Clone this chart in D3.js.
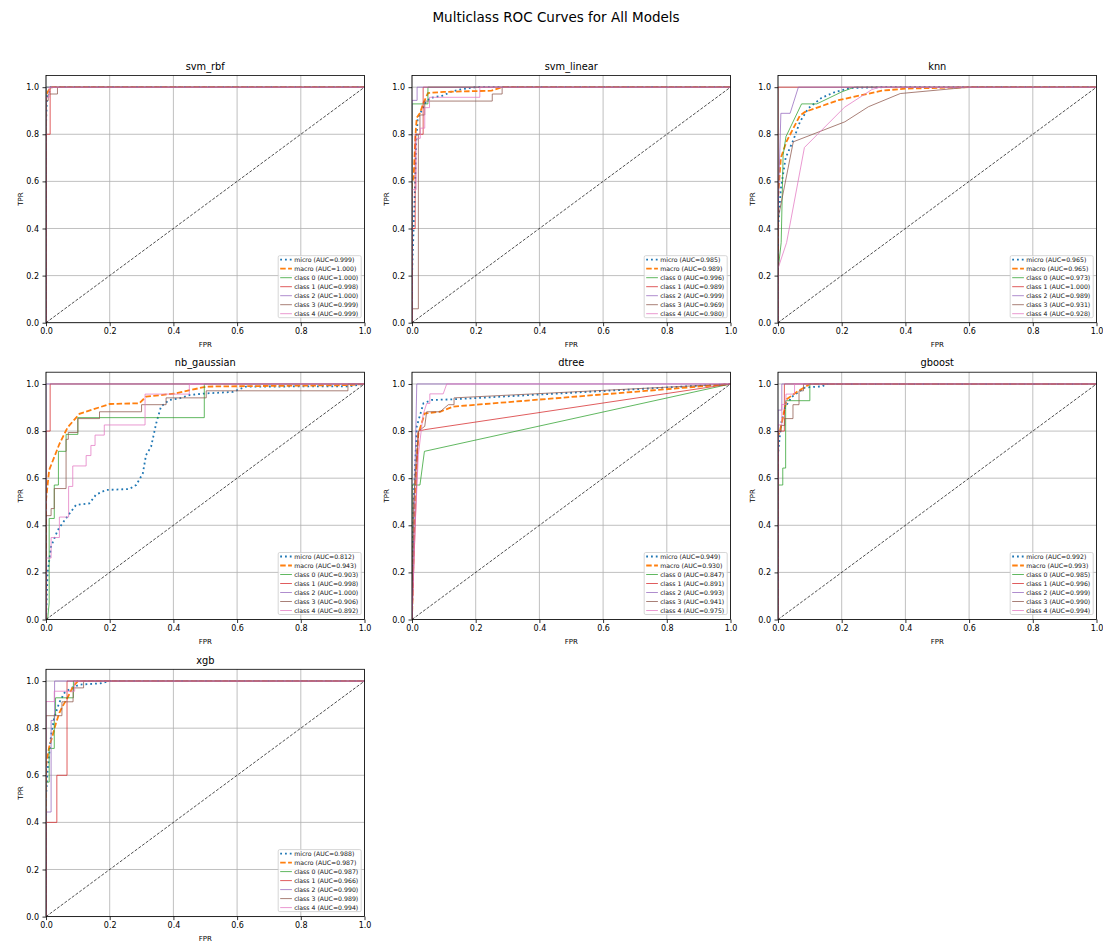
<!DOCTYPE html>
<html><head><meta charset="utf-8">
<script src="https://cdn.jsdelivr.net/npm/d3@7"></script>
<style>body{margin:0;background:#fff;} svg{display:block;font-family:"DejaVu Sans",sans-serif;}</style>
</head><body><svg id="chart" width="1103" height="943"></svg>
<script>
const figureTitle = "Multiclass ROC Curves for All Models";
const modelNames = ["svm_rbf","svm_linear","knn","nb_gaussian","dtree","gboost","xgb"];
const seriesNames = ["micro","macro","class 0","class 1","class 2","class 3","class 4"];
const axisTicks = [0,0.2,0.4,0.6,0.8,1.0];

// AUC values per model, in seriesNames order
const aucSvmRbf    = [0.999,1.000,1.000,0.998,1.000,0.999,0.999];
const aucSvmLinear = [0.985,0.989,0.996,0.989,0.999,0.969,0.980];
const aucKnn       = [0.965,0.965,0.973,1.000,0.989,0.931,0.928];
const aucNbGauss   = [0.812,0.943,0.903,0.998,1.000,0.906,0.892];
const aucDtree     = [0.949,0.930,0.847,0.891,0.993,0.941,0.975];
const aucGboost    = [0.992,0.993,0.985,0.996,0.999,0.990,0.994];
const aucXgb       = [0.988,0.987,0.987,0.966,0.990,0.989,0.994];

// ROC curves [FPR, TPR] per model, in seriesNames order
const rocSvmRbf = [
  [[0,0],[0,0.84],[0.003,0.96],[0.01,0.98],[0.015,1],[1,1]],
  [[0,0],[0,0.96],[0.005,0.98],[0.013,0.995],[0.02,1],[1,1]],
  [[0,0],[0,1],[1,1]],
  [[0,0],[0,0.8],[0.013,0.8],[0.013,1],[1,1]],
  [[0,0],[0,1],[1,1]],
  [[0,0],[0,0.943],[0.007,0.943],[0.007,0.971],[0.036,0.971],[0.036,1],[1,1]],
  [[0,0],[0,0.957],[0.01,0.957],[0.01,1],[1,1]]
];
const rocSvmLinear = [
  [[0,0],[0,0.2],[0.005,0.4],[0.01,0.6],[0.013,0.76],[0.018,0.87],[0.03,0.9],[0.045,0.94],[0.06,0.955],[0.1,0.965],[0.12,0.98],[0.15,0.99],[0.2,1],[1,1]],
  [[0,0],[0,0.59],[0.005,0.62],[0.012,0.82],[0.015,0.87],[0.025,0.89],[0.035,0.93],[0.05,0.975],[0.1,0.98],[0.25,0.985],[0.283,1],[1,1]],
  [[0,0],[0,0.929],[0.05,0.929],[0.05,1],[1,1]],
  [[0,0],[0,0.4],[0.01,0.4],[0.01,0.8],[0.035,0.8],[0.035,1],[1,1]],
  [[0,0],[0,0.944],[0.016,0.944],[0.016,1],[1,1]],
  [[0,0],[0,0.059],[0.02,0.059],[0.02,0.8],[0.025,0.8],[0.025,0.882],[0.04,0.882],[0.04,0.941],[0.252,0.941],[0.252,0.971],[0.283,0.971],[0.283,1],[1,1]],
  [[0,0],[0,0.565],[0.013,0.565],[0.013,0.783],[0.026,0.783],[0.026,0.826],[0.04,0.826],[0.04,0.913],[0.055,0.913],[0.055,0.957],[0.213,0.957],[0.213,1],[1,1]]
];
const rocKnn = [
  [[0,0],[0,0.4],[0.009,0.57],[0.024,0.70],[0.048,0.775],[0.069,0.853],[0.095,0.91],[0.137,0.955],[0.18,0.98],[0.23,0.997],[0.33,1],[1,1]],
  [[0,0],[0,0.53],[0.009,0.70],[0.027,0.77],[0.069,0.88],[0.085,0.895],[0.19,0.945],[0.326,0.985],[0.4,0.994],[0.6,1],[1,1]],
  [[0,0],[0,0.22],[0.01,0.34],[0.016,0.71],[0.025,0.79],[0.074,0.929],[0.122,0.929],[0.2,0.98],[0.24,1],[1,1]],
  [[0,0],[0,1],[1,1]],
  [[0,0],[0,0.45],[0.009,0.889],[0.038,0.889],[0.064,1],[1,1]],
  [[0,0],[0,0.44],[0.048,0.768],[0.21,0.853],[0.284,0.917],[0.384,0.973],[0.6,1],[1,1]],
  [[0,0],[0,0.23],[0.027,0.34],[0.083,0.744],[0.209,0.915],[0.295,0.99],[0.32,1],[1,1]]
];
const rocNbGauss = [
  [[0,0],[0.005,0.2],[0.016,0.31],[0.037,0.38],[0.063,0.43],[0.094,0.486],[0.136,0.493],[0.157,0.53],[0.188,0.55],[0.262,0.554],[0.283,0.571],[0.304,0.62],[0.314,0.698],[0.33,0.734],[0.346,0.833],[0.361,0.904],[0.387,0.932],[0.419,0.939],[0.45,0.953],[0.503,0.96],[0.586,0.966],[0.628,0.989],[0.95,0.99],[1,1]],
  [[0,0],[0,0.507],[0.01,0.635],[0.026,0.69],[0.042,0.745],[0.068,0.816],[0.105,0.873],[0.2,0.915],[0.293,0.918],[0.314,0.946],[0.408,0.96],[0.503,0.989],[0.95,0.995],[1,1]],
  [[0,0],[0.005,0],[0.01,0.07],[0.01,0.429],[0.026,0.429],[0.026,0.571],[0.039,0.571],[0.039,0.714],[0.063,0.714],[0.063,0.786],[0.1,0.786],[0.1,0.857],[0.497,0.857],[0.497,1],[1,1]],
  [[0,0],[0,0.8],[0.013,0.8],[0.013,1],[1,1]],
  [[0,0],[0,1],[1,1]],
  [[0,0],[0,0.441],[0.016,0.441],[0.016,0.471],[0.026,0.471],[0.026,0.556],[0.063,0.556],[0.063,0.765],[0.07,0.765],[0.07,0.794],[0.1,0.794],[0.1,0.853],[0.168,0.853],[0.168,0.882],[0.3,0.882],[0.3,0.912],[0.377,0.912],[0.377,0.941],[0.503,0.941],[0.503,0.971],[0.948,0.971],[0.948,1],[1,1]],
  [[0,0],[0,0.261],[0.016,0.261],[0.016,0.348],[0.042,0.348],[0.042,0.435],[0.071,0.435],[0.071,0.565],[0.084,0.565],[0.084,0.652],[0.126,0.652],[0.126,0.696],[0.141,0.696],[0.141,0.739],[0.154,0.739],[0.154,0.783],[0.183,0.783],[0.183,0.826],[0.311,0.826],[0.311,0.957],[0.45,0.957],[0.45,1],[1,1]]
];
const rocDtree = [
  [[0,0],[0.005,0.5],[0.015,0.82],[0.036,0.918],[0.062,0.932],[0.13,0.935],[1,1]],
  [[0,0],[0.01,0.58],[0.02,0.79],[0.04,0.875],[0.088,0.882],[0.13,0.904],[1,1]],
  [[0,0],[0,0.571],[0.025,0.571],[0.039,0.714],[1,1]],
  [[0,0],[0.02,0.8],[0.04,0.806],[1,1]],
  [[0,0],[0.015,1],[1,1]],
  [[0,0],[0.005,0.5],[0.02,0.8],[0.04,0.82],[0.046,0.882],[0.088,0.882],[0.114,0.912],[0.132,0.912],[0.132,0.941],[1,1]],
  [[0,0],[0.01,0.4],[0.02,0.7],[0.035,0.87],[0.046,0.917],[0.056,0.917],[0.056,0.958],[0.098,0.958],[0.109,1],[1,1]]
];
const rocGboost = [
  [[0,0],[0,0.7],[0.005,0.77],[0.011,0.84],[0.022,0.9],[0.043,0.945],[0.085,0.985],[0.14,0.99],[0.15,1],[1,1]],
  [[0,0],[0,0.78],[0.006,0.8],[0.022,0.9],[0.027,0.935],[0.059,0.966],[0.085,0.987],[0.1,1],[1,1]],
  [[0,0],[0,0.571],[0.015,0.571],[0.015,0.643],[0.024,0.643],[0.024,0.929],[0.1,0.929],[0.1,1],[1,1]],
  [[0,0],[0,0.8],[0.02,0.8],[0.02,1],[1,1]],
  [[0,0],[0,0.889],[0.012,0.889],[0.012,1],[1,1]],
  [[0,0],[0,0.8],[0.01,0.8],[0.01,0.824],[0.021,0.824],[0.021,0.853],[0.047,0.853],[0.047,0.912],[0.066,0.912],[0.066,0.971],[0.08,0.971],[0.08,1],[1,1]],
  [[0,0],[0,0.826],[0.012,0.826],[0.012,0.913],[0.025,0.913],[0.025,0.957],[0.052,0.957],[0.052,1],[1,1]]
];
const rocXgb = [
  [[0,0],[0,0.51],[0.005,0.62],[0.016,0.77],[0.026,0.845],[0.042,0.91],[0.058,0.95],[0.079,0.97],[0.105,0.985],[0.17,0.99],[0.2,1],[1,1]],
  [[0,0],[0,0.64],[0.01,0.72],[0.021,0.77],[0.031,0.82],[0.042,0.865],[0.052,0.893],[0.068,0.93],[0.084,0.975],[0.1,1],[1,1]],
  [[0,0],[0,0.571],[0.01,0.571],[0.01,0.714],[0.026,0.714],[0.026,0.857],[0.03,0.857],[0.03,0.929],[0.086,0.929],[0.086,1],[1,1]],
  [[0,0],[0,0.4],[0.034,0.4],[0.034,0.6],[0.066,0.6],[0.066,1],[1,1]],
  [[0,0],[0,0.444],[0.016,0.444],[0.016,0.833],[0.027,0.833],[0.027,1],[1,1]],
  [[0,0],[0,0.853],[0.05,0.853],[0.05,0.912],[0.085,0.912],[0.085,0.971],[0.118,0.971],[0.118,1],[1,1]],
  [[0,0],[0,0.913],[0.026,0.913],[0.026,0.957],[0.09,0.957],[0.09,1],[1,1]]
];

const modelAucs = [aucSvmRbf,aucSvmLinear,aucKnn,aucNbGauss,aucDtree,aucGboost,aucXgb];
const modelRocs = [rocSvmRbf,rocSvmLinear,rocKnn,rocNbGauss,rocDtree,rocGboost,rocXgb];

// styles
const seriesColors = ["#1f77b4","#ff7f0e","#2ca02c","#d62728","#9467bd","#8c564b","#e377c2"];
const seriesWidths = [1.8,1.8,1,1,1,1,1];
const seriesDash = ["1.8,3","5.5,2.4",null,null,null,null,null];
const seriesOpacity = [1,1,0.75,0.75,0.75,0.75,0.75];

const svg = d3.select("#chart");
svg.append("rect").attr("width",1103).attr("height",943).attr("fill","#fff");

svg.append("text").attr("x",556).attr("y",22).attr("text-anchor","middle")
  .attr("font-size",13.5).attr("fill","#000").text(figureTitle);

const colLeft = [46,412,778], plotW = 318.5;
const rowBottom = [322.7,619.5,916.6], plotH = 247.3;
const fmt = d3.format(".1f");

modelNames.forEach((name,i)=>{
  const r = Math.floor(i/3), c = i%3;
  const x = d3.scaleLinear().domain([0,1]).range([colLeft[c], colLeft[c]+plotW]);
  const y = d3.scaleLinear().domain([0,1.05]).range([rowBottom[r], rowBottom[r]-plotH]);
  const g = svg.append("g");
  const x0 = x(0), x1 = x(1), yb = y(0), yt = y(1.05);

  // grid
  g.append("g").selectAll("line.vg").data(axisTicks).join("line")
    .attr("x1",d=>x(d)).attr("x2",d=>x(d)).attr("y1",yb).attr("y2",yt)
    .attr("stroke","#b0b0b0").attr("stroke-width",0.8);
  g.append("g").selectAll("line.hg").data(axisTicks).join("line")
    .attr("y1",d=>y(d)).attr("y2",d=>y(d)).attr("x1",x0).attr("x2",x1)
    .attr("stroke","#b0b0b0").attr("stroke-width",0.8);

  const clipId = "clip"+i;
  svg.append("clipPath").attr("id",clipId).append("rect")
    .attr("x",x0).attr("y",yt).attr("width",x1-x0).attr("height",yb-yt);
  const pg = g.append("g").attr("clip-path",`url(#${clipId})`);
  const line = d3.line().x(d=>x(d[0])).y(d=>y(d[1]));

  modelRocs[i].forEach((pts,k)=>{
    pg.append("path").attr("d",line(pts)).attr("fill","none")
      .attr("stroke",seriesColors[k]).attr("stroke-width",seriesWidths[k])
      .attr("stroke-opacity",seriesOpacity[k])
      .attr("stroke-dasharray",seriesDash[k]);
  });
  // chance diagonal
  pg.append("path").attr("d",line([[0,0],[1,1]])).attr("fill","none")
    .attr("stroke","#222").attr("stroke-width",0.8).attr("stroke-dasharray","3,1.6");

  // axes
  const ax = g.append("g").attr("transform",`translate(0,${yb})`)
    .call(d3.axisBottom(x).tickValues(axisTicks).tickFormat(fmt).tickSize(3.5).tickPadding(2.3).tickSizeOuter(0));
  const ay = g.append("g").attr("transform",`translate(${x0},0)`)
    .call(d3.axisLeft(y).tickValues(axisTicks).tickFormat(fmt).tickSize(3.5).tickPadding(3.5).tickSizeOuter(0));
  [ax,ay].forEach(a=>{
    a.select(".domain").remove();
    a.selectAll("text").attr("font-size",8).attr("font-family","DejaVu Sans").attr("fill","#000");
    a.selectAll("line").attr("stroke","#000").attr("stroke-width",0.8);
  });
  g.append("rect").attr("x",x0).attr("y",yt).attr("width",x1-x0).attr("height",yb-yt)
    .attr("fill","none").attr("stroke","#000").attr("stroke-width",0.8);

  // labels
  g.append("text").attr("x",(x0+x1)/2).attr("y",yb+24).attr("text-anchor","middle")
    .attr("font-size",7).attr("fill","#000").text("FPR");
  g.append("text").attr("transform",`translate(${x0-23.5},${(yb+yt)/2}) rotate(-90)`)
    .attr("text-anchor","middle").attr("font-size",7).attr("fill","#000").text("TPR");
  g.append("text").attr("x",(x0+x1)/2).attr("y",yt-5.8).attr("text-anchor","middle")
    .attr("font-size",9.8).attr("fill","#000").text(name);

  // legend
  const lw = 83, lh = 62;
  const lx = x1 - 3.3 - lw, ly = yb - 5 - lh;
  const lg = g.append("g");
  lg.append("rect").attr("x",lx).attr("y",ly).attr("width",lw).attr("height",lh)
    .attr("rx",1.5).attr("fill","#fff").attr("fill-opacity",0.8)
    .attr("stroke","#cccccc").attr("stroke-width",0.8);
  seriesNames.forEach((sn,k)=>{
    const cy = ly + 4 + k*9;
    lg.append("line").attr("x1",lx+2).attr("x2",lx+13.7).attr("y1",cy).attr("y2",cy)
      .attr("stroke",seriesColors[k]).attr("stroke-width",seriesWidths[k])
      .attr("stroke-opacity",seriesOpacity[k]).attr("stroke-dasharray",seriesDash[k]);
    lg.append("text").attr("x",lx+16).attr("y",cy).attr("dy","0.35em")
      .attr("font-size",6.2).attr("fill","#111")
      .text(`${sn} (AUC=${modelAucs[i][k].toFixed(3)})`);
  });
});
</script></body></html>
